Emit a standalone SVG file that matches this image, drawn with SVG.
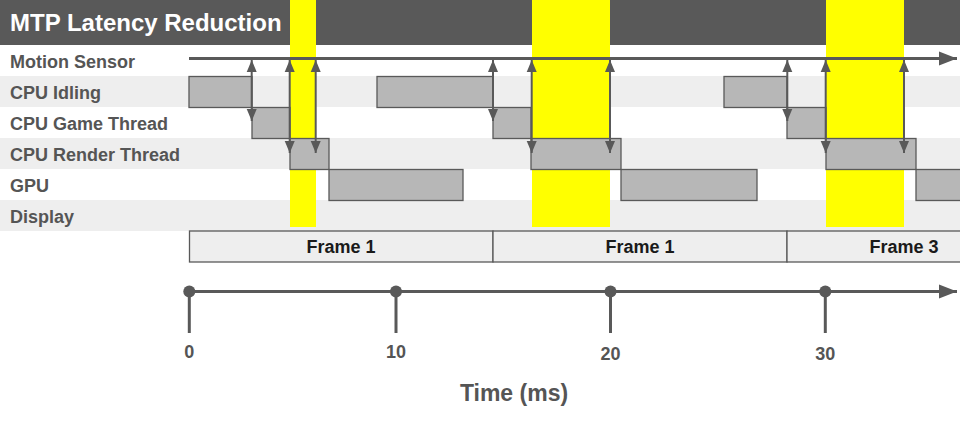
<svg xmlns="http://www.w3.org/2000/svg" width="960" height="428" viewBox="0 0 960 428">
<defs>
<style>
.lbl{font-family:"Liberation Sans",Arial,sans-serif;font-weight:bold;font-size:18px;fill:#555555}
.frm{font-family:"Liberation Sans",Arial,sans-serif;font-weight:bold;font-size:18px;fill:#1a1a1a;text-anchor:middle}
.tick{font-family:"Liberation Sans",Arial,sans-serif;font-weight:bold;font-size:18px;fill:#555555;text-anchor:middle}
.bar{fill:#b7b7b7;stroke:#595959;stroke-width:1.3}
.band{fill:#eeeeee}
.hl{fill:#ffff00}
.fbox{fill:#eeeeee;stroke:#595959;stroke-width:1.3}
.conn{stroke:#595959;stroke-width:2;fill:none;marker-start:url(#ah);marker-end:url(#ah)}
.axis{stroke:#595959;stroke-width:3;fill:none}
</style>
<marker id="ah" markerUnits="userSpaceOnUse" markerWidth="12" markerHeight="11" refX="12" refY="5.5" orient="auto-start-reverse" viewBox="0 0 12 11">
<path d="M0,0.5 L12,5.5 L0,10.5 z" fill="#595959"/>
</marker>
<marker id="big" markerUnits="userSpaceOnUse" markerWidth="18" markerHeight="15" refX="18" refY="7.5" orient="auto" viewBox="0 0 18 15">
<path d="M0,0.5 L18,7.5 L0,14.5 z" fill="#595959"/>
</marker>
</defs>
<rect width="960" height="428" fill="#ffffff"/>
<g id="rows">
<rect class="band" x="0" y="76" width="960" height="31"/>
<rect class="band" x="0" y="138" width="960" height="31"/>
<rect class="band" x="0" y="200" width="960" height="31"/>
</g>
<g id="title">
<rect x="0" y="0" width="960" height="45" fill="#595959"/>
<text x="10" y="31" font-family="Liberation Sans, Arial, sans-serif" font-weight="bold" font-size="24" fill="#ffffff">MTP Latency Reduction</text>
</g>
<g id="highlights">
<rect class="hl" x="290" y="0" width="26" height="227"/>
<rect class="hl" x="532" y="0" width="78" height="227"/>
<rect class="hl" x="826" y="0" width="78" height="227"/>
</g>
<g id="row-labels">
<text class="lbl" x="10" y="68">Motion Sensor</text>
<text class="lbl" x="10" y="99">CPU Idling</text>
<text class="lbl" x="10" y="130">CPU Game Thread</text>
<text class="lbl" x="10" y="161">CPU Render Thread</text>
<text class="lbl" x="10" y="192">GPU</text>
<text class="lbl" x="10" y="223">Display</text>
</g>
<g id="motion-sensor">
<line class="axis" x1="189" y1="58.5" x2="957" y2="58.5" marker-end="url(#big)"/>
</g>
<g id="cpu-idling">
<rect class="bar" x="189" y="76.5" width="63" height="31"/>
<rect class="bar" x="377" y="76.5" width="116" height="31"/>
<rect class="bar" x="724" y="76.5" width="63" height="31"/>
</g>
<g id="cpu-game-thread">
<rect class="bar" x="252" y="107.5" width="38" height="31"/>
<rect class="bar" x="493" y="107.5" width="38" height="31"/>
<rect class="bar" x="787" y="107.5" width="39" height="31"/>
</g>
<g id="cpu-render-thread">
<rect class="bar" x="290" y="138.5" width="39" height="31"/>
<rect class="bar" x="531" y="138.5" width="90" height="31"/>
<rect class="bar" x="826" y="138.5" width="90" height="31"/>
</g>
<g id="gpu">
<rect class="bar" x="329" y="169.5" width="134" height="31"/>
<rect class="bar" x="621" y="169.5" width="136" height="31"/>
<rect class="bar" x="916" y="169.5" width="60" height="31"/>
</g>
<g id="connectors">
<line class="conn" x1="251.7" y1="60" x2="251.7" y2="121"/>
<line class="conn" x1="289.7" y1="60" x2="289.7" y2="153"/>
<line class="conn" x1="315.7" y1="60" x2="315.7" y2="153"/>
<line class="conn" x1="493" y1="60" x2="493" y2="121"/>
<line class="conn" x1="531.7" y1="60" x2="531.7" y2="153"/>
<line class="conn" x1="610" y1="60" x2="610" y2="153"/>
<line class="conn" x1="787.3" y1="60" x2="787.3" y2="121"/>
<line class="conn" x1="825.7" y1="60" x2="825.7" y2="153"/>
<line class="conn" x1="904" y1="60" x2="904" y2="153"/>
</g>
<g id="frames">
<rect class="fbox" x="189.5" y="231" width="303.5" height="31"/>
<rect class="fbox" x="493" y="231" width="294" height="31"/>
<rect class="fbox" x="787" y="231" width="240" height="31"/>
<text class="frm" x="341" y="253">Frame 1</text>
<text class="frm" x="640" y="253">Frame 1</text>
<text class="frm" x="904" y="253">Frame 3</text>
</g>
<g id="time-axis">
<line class="axis" x1="189" y1="291.5" x2="957" y2="291.5" marker-end="url(#big)"/>
<line class="axis" x1="189.3" y1="291.5" x2="189.3" y2="333"/>
<line class="axis" x1="396" y1="291.5" x2="396" y2="333"/>
<line class="axis" x1="610.5" y1="291.5" x2="610.5" y2="333"/>
<line class="axis" x1="825.3" y1="291.5" x2="825.3" y2="333"/>
<circle cx="189.3" cy="291.5" r="6" fill="#595959"/>
<circle cx="396" cy="291.5" r="6" fill="#595959"/>
<circle cx="610.5" cy="291.5" r="6" fill="#595959"/>
<circle cx="825.3" cy="291.5" r="6" fill="#595959"/>
<text class="tick" x="189.3" y="358">0</text>
<text class="tick" x="396" y="358">10</text>
<text class="tick" x="610.5" y="360">20</text>
<text class="tick" x="825.3" y="360">30</text>
<text x="514" y="401" text-anchor="middle" font-family="Liberation Sans, Arial, sans-serif" font-weight="bold" font-size="23" fill="#555555">Time (ms)</text>
</g>
</svg>
